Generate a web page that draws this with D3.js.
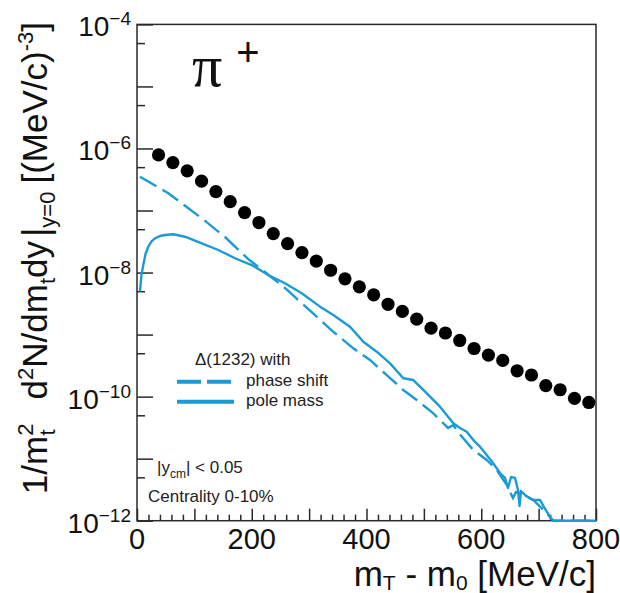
<!DOCTYPE html>
<html>
<head>
<meta charset="utf-8">
<script src="https://cdn.jsdelivr.net/npm/d3@7"></script>
<style>
  html, body { margin: 0; padding: 0; background: #fff; }
  svg { display: block; font-family: "Liberation Sans", Arial, Helvetica, sans-serif; }
</style>
</head>
<body>
<svg id="chart" width="620" height="593"></svg>
<script>
// Measured pi+ spectrum (mT - m0 bin centres, MeV/c)
const dataMt = [37.5, 62.5, 87.5, 112.5, 137.5, 162.5, 187.5, 212.5, 237.5, 262.5,
  287.5, 312.5, 337.5, 362.5, 387.5, 412.5, 437.5, 462.5, 487.5, 512.5,
  537.5, 562.5, 587.5, 612.5, 637.5, 662.5, 687.5, 712.5, 737.5, 762.5, 787.5];
const dataYield = [7.87e-7, 5.92e-7, 4.36e-7, 2.97e-7, 2.02e-7, 1.39e-7, 9.27e-8, 6.40e-8, 4.25e-8, 2.93e-8,
  2.10e-8, 1.53e-8, 1.09e-8, 7.93e-9, 5.89e-9, 4.38e-9, 3.08e-9, 2.36e-9, 1.78e-9, 1.27e-9,
  1.06e-9, 8.04e-10, 5.97e-10, 4.68e-10, 3.83e-10, 2.61e-10, 2.23e-10, 1.50e-10, 1.29e-10, 9.35e-11, 8.05e-11];

// Transport model, Delta(1232) with pole mass
const poleMassMt = [5.2, 7.8, 11.0, 14.8, 19.7, 25.3, 31.4, 40.1, 48.8, 63.3, 83.7, 112.8, 141.7, 170.8,
  199.9, 228.8, 257.9, 287.1, 319.0, 342.1, 371.2, 394.4, 417.8, 441.0, 464.1, 481.6, 499.0, 528.1,
  551.3, 563.0, 574.6, 589.1, 597.8, 621.0, 632.7, 641.4, 646.6, 651.9, 658.8, 664.1, 666.7, 669.3,
  678.0, 690.2, 702.4, 709.4, 719.8, 725.6, 800];
const poleMassYield = [4.91e-9, 9.14e-9, 1.32e-8, 1.99e-8, 2.61e-8, 3.17e-8, 3.56e-8, 3.88e-8, 4.03e-8, 4.14e-8,
  3.78e-8, 2.96e-8, 2.31e-8, 1.70e-8, 1.32e-8, 9.14e-9, 6.71e-9, 4.63e-9, 2.82e-9, 2.07e-9,
  1.34e-9, 7.69e-10, 5.30e-10, 3.44e-10, 1.98e-10, 1.85e-10, 1.28e-10, 6.89e-11, 3.72e-11, 3.13e-11,
  2.72e-11, 1.86e-11, 1.56e-11, 8.41e-12, 5.87e-12, 4.89e-12, 3.37e-12, 5.07e-12, 4.89e-12, 3.13e-12,
  1.73e-12, 3.01e-12, 2.51e-12, 2.16e-12, 2.16e-12, 1.66e-12, 1.15e-12, 1e-12, 1e-12];

// Transport model, Delta(1232) with phase shift
const phaseShiftMt = [5.2, 54.6, 112.8, 153.4, 193.5, 228.3, 257.9, 284.1, 313.2, 342.1, 377.0, 406.1,
  435.2, 464.1, 487.5, 516.4, 533.9, 542.1, 551.3, 559.5, 586.1, 609.5, 626.9, 644.4, 655.3, 660.6,
  667.5, 690.7, 714.0, 725.6, 800];
const phaseShiftYield = [3.51e-7, 1.90e-7, 7.50e-8, 3.74e-8, 1.66e-8, 9.31e-9, 5.64e-9, 3.39e-9, 1.95e-9,
  1.11e-9, 6.01e-10, 3.90e-10, 2.23e-10, 1.28e-10, 8.83e-11, 5.38e-11, 3.72e-11, 3.13e-11, 3.49e-11,
  2.69e-11, 1.38e-11, 9.53e-12, 6.58e-12, 3.77e-12, 2.32e-12, 2.90e-12, 2.77e-12, 2.16e-12, 1.32e-12,
  1e-12, 1e-12];

// Axis ticks
const xMajorTicks = [0, 100, 200, 300, 400, 500, 600, 700, 800];
const xLabelTicks = [0, 200, 400, 600, 800];
const yDecadeTicks = [1e-4, 1e-5, 1e-6, 1e-7, 1e-8, 1e-9, 1e-10, 1e-11, 1e-12];
const yHalfTicks = [5e-5, 5e-6, 5e-7, 5e-8, 5e-9, 5e-10, 5e-11, 5e-12];
const yLabelExponents = [-4, -6, -8, -10, -12];

const legendTitle = "\u0394(1232) with";
const legendLabels = ["phase shift", "pole mass"];

const BLUE = "#1b9bd5";
const AXIS = "#2a2a2a";

const svg = d3.select("#chart");
const plotLeft = 137, plotRight = 596, plotTop = 24.4, plotBottom = 520.7;

const x = d3.scaleLinear().domain([0, 800]).range([plotLeft, plotRight]);
const y = d3.scaleLog().domain([1e-12, 1e-4]).range([plotBottom, plotTop]);

svg.append("defs").append("clipPath").attr("id", "plotArea")
  .append("rect").attr("x", plotLeft).attr("y", plotTop - 2)
  .attr("width", plotRight - plotLeft).attr("height", plotBottom - plotTop + 4);

// Data points
svg.append("g").selectAll("circle")
  .data(dataMt.map((m, i) => [m, dataYield[i]]))
  .join("circle")
  .attr("cx", d => x(d[0])).attr("cy", d => y(d[1]))
  .attr("r", 6.6).attr("fill", "#000");

// Frame
svg.append("rect").attr("x", plotLeft).attr("y", plotTop)
  .attr("width", plotRight - plotLeft).attr("height", plotBottom - plotTop)
  .attr("fill", "none").attr("stroke", AXIS).attr("stroke-width", 1.5);

// Y ticks (inward)
function styleAxis(g) {
  g.select(".domain").remove();
  g.selectAll(".tick line").attr("stroke", AXIS).attr("stroke-width", 1.5);
  g.selectAll(".tick text").remove();
}
svg.append("g").attr("transform", `translate(${plotLeft},0)`)
  .call(d3.axisLeft(y).tickValues(yDecadeTicks).tickSize(-16).tickFormat(""))
  .call(styleAxis);
svg.append("g").attr("transform", `translate(${plotLeft},0)`)
  .call(d3.axisLeft(y).tickValues(yHalfTicks).tickSize(-8).tickFormat(""))
  .call(styleAxis);

// X ticks (inward)
svg.append("g").attr("transform", `translate(0,${plotBottom})`)
  .call(d3.axisBottom(x).tickValues(xMajorTicks).tickSize(-12).tickFormat(""))
  .call(styleAxis);
svg.append("g").attr("transform", `translate(0,${plotBottom})`)
  .call(d3.axisBottom(x).tickValues(d3.range(0, 801, 20).filter(v => v % 100 !== 0)).tickSize(-6).tickFormat(""))
  .call(styleAxis);

// Model curves (on top of the frame, so the clipped tail shows along the axis)
const line = d3.line().x(d => x(d[0])).y(d => y(Math.max(d[1], 1e-12)));
const curves = svg.append("g").attr("clip-path", "url(#plotArea)");
curves.append("path")
  .datum(phaseShiftMt.map((m, i) => [m, phaseShiftYield[i]]))
  .attr("d", line).attr("fill", "none").attr("stroke", BLUE)
  .attr("stroke-width", 2.4).attr("stroke-dasharray", "19,7");
curves.append("path")
  .datum(poleMassMt.map((m, i) => [m, poleMassYield[i]]))
  .attr("d", line).attr("fill", "none").attr("stroke", BLUE)
  .attr("stroke-width", 2.4).attr("stroke-linejoin", "round");

// Y tick labels 10^n
yLabelExponents.forEach(e => {
  const t = svg.append("text")
    .attr("x", 131).attr("y", y(Math.pow(10, e)) + 12)
    .attr("text-anchor", "end").attr("fill", "#111");
  t.append("tspan").attr("font-size", 28).text("10");
  t.append("tspan").attr("font-size", 19).attr("dy", -11).text("\u2212" + Math.abs(e));
});

// X tick labels
xLabelTicks.forEach(v => {
  svg.append("text").attr("x", x(v)).attr("y", 549)
    .attr("text-anchor", "middle").attr("font-size", 29).attr("fill", "#111")
    .text(v);
});

// X title
{
  const t = svg.append("text").attr("x", 596).attr("y", 586)
    .attr("text-anchor", "end").attr("font-size", 35).attr("fill", "#111");
  t.append("tspan").text("m");
  t.append("tspan").attr("font-size", 21).attr("dy", 4).text("T");
  t.append("tspan").attr("dy", -4).text(" - m");
  t.append("tspan").attr("font-size", 21).attr("dy", 4).text("0");
  t.append("tspan").attr("dy", -4).text(" [MeV/c]");
}

// Y title (rotated)
{
  const t = svg.append("text")
    .attr("transform", "translate(47,22) rotate(-90)")
    .attr("text-anchor", "end")
    .attr("font-size", 35).attr("fill", "#111");
  t.append("tspan").text("1/m");
  t.append("tspan").attr("font-size", 22).attr("dy", -14).text("2");
  t.append("tspan").attr("font-size", 22).attr("dx", -12).attr("dy", 22).text("t");
  t.append("tspan").attr("dx", 30).attr("dy", -8).text("d");
  t.append("tspan").attr("font-size", 22).attr("dy", -14).text("2");
  t.append("tspan").attr("dy", 14).text("N/dm");
  t.append("tspan").attr("font-size", 22).attr("dy", 8).text("t");
  t.append("tspan").attr("dy", -8).text("dy");
  t.append("tspan").attr("font-size", 36).attr("dx", 4).attr("dy", 1).text("|");
  t.append("tspan").attr("font-size", 22).attr("dy", 7).text("y=0");
  t.append("tspan").attr("dx", 8).attr("dy", -8).text("[(MeV/c)");
  t.append("tspan").attr("font-size", 22).attr("dy", -14).text("-3");
  t.append("tspan").attr("dy", 14).text("]");
}

// Particle label
{
  const t = svg.append("text").attr("x", 192).attr("y", 86)
    .attr("font-family", "'Liberation Serif', 'Times New Roman', serif").attr("fill", "#111");
  t.append("tspan").attr("font-size", 60).text("\u03c0");
  t.append("tspan").attr("font-size", 40).attr("dx", 14).attr("dy", -20)
    .attr("font-family", "'Liberation Sans', Arial, sans-serif").text("+");
}

// Legend
const legend = svg.append("g").attr("font-size", 17).attr("fill", "#222");
legend.append("text").attr("x", 195).attr("y", 365).text(legendTitle);
legend.append("line").attr("x1", 177).attr("x2", 231).attr("y1", 381.7).attr("y2", 381.7)
  .attr("stroke", BLUE).attr("stroke-width", 4).attr("stroke-dasharray", "24,6");
legend.append("line").attr("x1", 177).attr("x2", 234).attr("y1", 401.7).attr("y2", 401.7)
  .attr("stroke", BLUE).attr("stroke-width", 4);
legend.selectAll(".lab").data(legendLabels).join("text").attr("class", "lab")
  .attr("x", 246).attr("y", (d, i) => 386 + i * 20).text(d => d);

// Selection notes
{
  const t = svg.append("text").attr("x", 157).attr("y", 473).attr("font-size", 17).attr("fill", "#222");
  t.append("tspan").text("|y");
  t.append("tspan").attr("font-size", 12).attr("dy", 5).text("cm");
  t.append("tspan").attr("dy", -5).text("| < 0.05");
  svg.append("text").attr("x", 148).attr("y", 502).attr("font-size", 17).attr("fill", "#222")
    .text("Centrality 0-10%");
}
</script>
</body>
</html>
